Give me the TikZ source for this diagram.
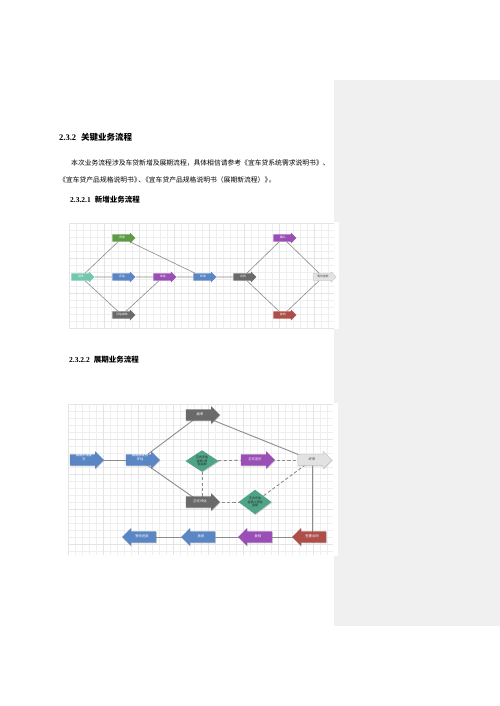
\documentclass[tikz,border=0pt]{standalone}
\usepackage{fontspec}
\setmainfont{Liberation Serif}
\newfontfamily\cjk{Noto Sans CJK SC}
\usetikzlibrary{shapes.arrows,shapes.geometric,shadows}
\pgfdeclarelayer{bgzero}
\pgfdeclarelayer{bgone}
\pgfsetlayers{bgzero,bgone,main}
\definecolor{sidebar}{HTML}{F0F0F0}
\definecolor{gridc}{HTML}{EFEFEF}
\definecolor{gridm}{HTML}{E4E4E4}
\definecolor{teal1}{HTML}{72C7AE}
\definecolor{green1}{HTML}{5F9A48}
\definecolor{blue1}{HTML}{5A86C4}
\definecolor{purple1}{HTML}{9A4FB6}
\definecolor{dgray}{HTML}{6A6A6A}
\definecolor{lgray}{HTML}{E2E2E2}
\definecolor{lgrayb}{HTML}{B8B8B8}
\definecolor{red1}{HTML}{AE4E48}
\definecolor{dia}{HTML}{4FA386}
\definecolor{edge}{HTML}{8C8C8C}
\tikzset{
  txt/.style={inner sep=0pt, anchor=west},
  arrA/.style={single arrow, single arrow head extend=1.8pt, single arrow tip angle=90,
    minimum height=23pt, minimum width=0pt, inner xsep=1pt, inner ysep=0.7pt,
    text height=3.2pt, text depth=2.2pt, text=white, fill=#1,
    font=\cjk\fontsize{2.8}{3}\selectfont},
  arrB/.style={single arrow, single arrow head extend=3.2pt, single arrow tip angle=90,
    minimum height=34pt, minimum width=0pt, inner xsep=1pt, inner ysep=0.7pt,
    text height=5.2pt, text depth=4.2pt, text=white, fill=#1, align=center,
    font=\cjk\fontsize{3.3}{3.8}\selectfont,
    drop shadow={opacity=0.35, shadow xshift=0.7pt, shadow yshift=-0.7pt}},
  lightA/.style={arrA=lgray, draw=lgrayb, line width=0.3pt, text=black!70},
  lightB/.style={arrB=lgray, draw=lgrayb, line width=0.3pt, text=black!70},
  leftB/.style={arrB=#1, shape border rotate=180},
  dmd/.style={diamond, fill=dia, minimum width=33pt, minimum height=18pt, inner sep=0pt,
    align=center, text=black!85, font=\cjk\fontsize{3}{3.4}\selectfont,
    drop shadow={opacity=0.35, shadow xshift=0.7pt, shadow yshift=-0.7pt}},
  conA/.style={draw=edge, line width=0.6pt},
  conB/.style={draw=edge, line width=0.9pt},
  dashB/.style={draw=edge, line width=0.9pt, dash pattern=on 3.2pt off 2.2pt},
}
\begin{document}
\begin{tikzpicture}[x=1pt,y=-1pt]
\useasboundingbox (0,0) rectangle (500,706);
\begin{pgfonlayer}{bgzero}
\fill[white] (0,0) rectangle (500,706);
\fill[sidebar] (334,80) rectangle (500,626);
% diagram 1 background
\fill[white] (68,222) rectangle (339,329);
\foreach \x in {69,76,...,334} \draw[gridc, line width=0.3pt] (\x,223) -- (\x,328);
\foreach \y in {223,230,...,328} \draw[gridc, line width=0.3pt] (69,\y) -- (334,\y);
\foreach \x in {69,104,...,334} \draw[gridm, line width=0.3pt] (\x,223) -- (\x,328);
\foreach \y in {223,258,...,328} \draw[gridm, line width=0.3pt] (69,\y) -- (334,\y);
% diagram 2 background
\fill[white] (67,403) rectangle (338,556);
\foreach \x in {68,75,...,333} \draw[gridc, line width=0.3pt] (\x,404) -- (\x,555);
\foreach \y in {404,411,...,555} \draw[gridc, line width=0.3pt] (68,\y) -- (333,\y);
\foreach \x in {68,103,...,333} \draw[gridm, line width=0.3pt] (\x,404) -- (\x,555);
\foreach \y in {404,439,...,555} \draw[gridm, line width=0.3pt] (68,\y) -- (333,\y);
\end{pgfonlayer}

% ---------- text ----------
\node[txt, font=\fontsize{8.5}{10}\selectfont\bfseries] (h1) at (59,137)
  {2.3.2\hspace{5pt}{\cjk 关键业务流程}};
\node[txt, font=\cjk\fontsize{6.8}{8}\selectfont] (p1) at (71,163)
  {本次业务流程涉及车贷新增及展期流程，具体相信请参考《宜车贷系统需求说明书》、};
\node[txt, font=\cjk\fontsize{6.8}{8}\selectfont] (p2) at (59,180)
  {《宜车贷产品规格说明书》\kern-2.5pt、\kern-3pt《宜车贷产品规格说明书（展期新流程）》\kern-2.5pt。};
\node[txt, font=\fontsize{7.5}{9}\selectfont\bfseries] (h2) at (70,200)
  {2.3.2.1\hspace{4pt}{\cjk 新增业务流程}};
\node[txt, font=\fontsize{7.5}{9}\selectfont\bfseries] (h3) at (69,360)
  {2.3.2.2\hspace{4pt}{\cjk 展期业务流程}};

% ---------- diagram 1 nodes ----------
\node[arrA=teal1]   (jj) at (81,277)  {进件};
\node[arrA=green1]  (dc) at (122,238) {调查};
\node[arrA=blue1]   (pg) at (122,277) {评估};
\node[arrA=purple1] (sp) at (163,277) {审批};
\node[arrA=dgray]   (ps) at (122,315) {评估审核};
\node[arrA=blue1]   (zs) at (203,277) {终审};
\node[arrA=dgray]   (ht) at (243,277) {合同};
\node[arrA=purple1] (qr) at (283,238) {确认};
\node[lightA]       (dd) at (323,277) {等待放款};
\node[arrA=red1]    (fh) at (283,315) {复核};

\begin{pgfonlayer}{bgone}
\draw[conA] (jj) -- (dc);
\draw[conA] (jj) -- (pg);
\draw[conA] (jj) -- (ps);
\draw[conA] (pg) -- (sp);
\draw[conA] (sp) -- (ps);
\draw[conA] (dc) -- (zs);
\draw[conA] (sp) -- (zs);
\draw[conA] (zs) -- (ht);
\draw[conA] (ht) -- (qr);
\draw[conA] (ht) -- (fh);
\draw[conA] (qr) -- (dd);
\draw[conA] (fh) -- (dd);
\end{pgfonlayer}

% ---------- diagram 2 nodes ----------
\node[arrB=blue1]   (a1) at (84,460)  {展期申请提\\交};
\node[arrB=blue1]   (a2) at (140,460) {展期额度预\\评估};
\node[arrB=dgray]   (ms) at (200,415) {面审};
\node[dmd]          (d1) at (202,461) {正式评估\\金额<预\\估金额};
\node[arrB=purple1] (dj) at (255,460) {正式定价};
\node[lightB]       (z2) at (312,460) {终审};
\node[arrB=dgray]   (pz) at (200,502) {正式评估};
\node[dmd]          (d2) at (255,502) {正式评估\\金额≥预估\\金额};
\node[leftB=red1]   (qs) at (312,537) {签署合同};
\node[leftB=purple1](f2) at (258,537) {复核};
\node[leftB=blue1]  (fk) at (201,537) {放款};
\node[leftB=blue1]  (dh) at (142,537) {等待还款};

\begin{pgfonlayer}{bgone}
\draw[conB] (a1.center) -- (a2.center);
\draw[conB] (a2.center) -- (ms.center);
\draw[conB] (a2.center) -- (pz.center);
\draw[conB] (ms.center) -- (z2.center);
\draw[conB] (z2.center) -- (qs.center);
\draw[conB] (qs.center) -- (f2.center);
\draw[conB] (f2.center) -- (fk.center);
\draw[conB] (fk.center) -- (dh.center);
\draw[dashB] (d1.center) -- (dj.center);
\draw[dashB] (dj.center) -- (z2.center);
\draw[dashB] (d1.center) -- (d1.center |- pz.center);
\draw[dashB] (pz.center) -- (d2.center);
\draw[dashB] (d2.center) -- (z2.center);
\end{pgfonlayer}
\end{tikzpicture}
\end{document}
